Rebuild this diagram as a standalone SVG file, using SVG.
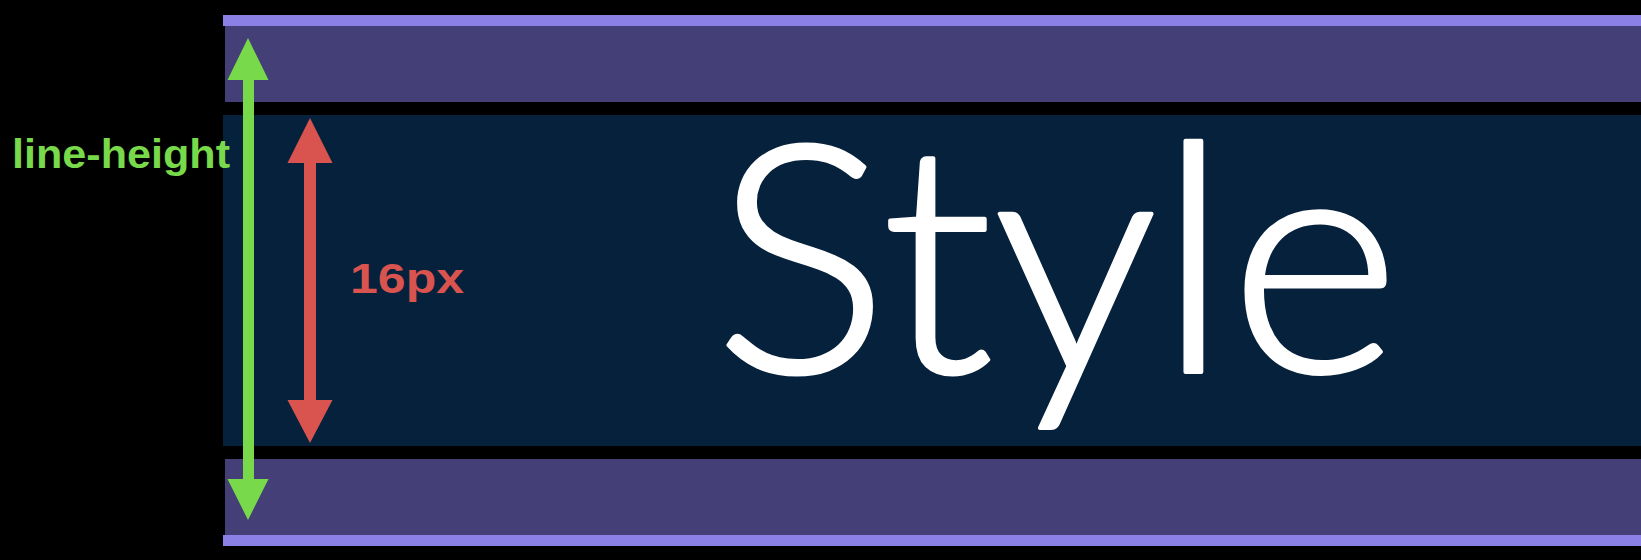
<svg xmlns="http://www.w3.org/2000/svg" width="1641" height="560" viewBox="0 0 1641 560">
  <style>
    .bar { fill: #8a80e6; }
    .band { fill: #453f78; }
    .content { fill: #06213c; }
    .lbl { font-family: "Liberation Sans", Arial, sans-serif; font-weight: bold; }
    .green { fill: #78d94a; }
    .red { fill: #d9534f; }
    .big { font-family: Lato, "Open Sans", sans-serif; font-weight: 300; font-size: 318px; fill: #ffffff; stroke: #ffffff; stroke-width: 4px; stroke-linejoin: round; }
  </style>
  <rect x="0" y="0" width="1641" height="560" fill="#000000"/>
  <g id="top-half-leading">
    <rect class="bar" x="223" y="15" width="1418" height="11"/>
    <rect class="band" x="225" y="26" width="1416" height="76"/>
  </g>
  <g id="content-box">
    <rect class="content" x="223" y="115" width="1418" height="331"/>
    <text class="big" x="714" y="372" textLength="686" lengthAdjust="spacingAndGlyphs">Style</text>
  </g>
  <g id="bottom-half-leading">
    <rect class="band" x="225" y="459" width="1416" height="76"/>
    <rect class="bar" x="223" y="535" width="1418" height="11"/>
  </g>
  <g id="connectors">
    <g id="line-height-arrow" class="green">
      <rect x="243" y="78" width="11" height="403"/>
      <polygon points="248,38 268.5,80 227.5,80"/>
      <polygon points="248,520 268.5,479 227.5,479"/>
    </g>
    <g id="font-size-arrow" class="red">
      <rect x="304" y="161" width="12" height="241"/>
      <polygon points="310,118 332.5,163 287.5,163"/>
      <polygon points="310,443 332.5,400 287.5,400"/>
    </g>
  </g>
  <g id="labels">
    <text class="lbl green" x="12" y="168" font-size="41" textLength="218" lengthAdjust="spacingAndGlyphs">line-height</text>
    <text class="lbl red" x="350" y="293" font-size="43" textLength="114" lengthAdjust="spacingAndGlyphs">16px</text>
  </g>
</svg>
